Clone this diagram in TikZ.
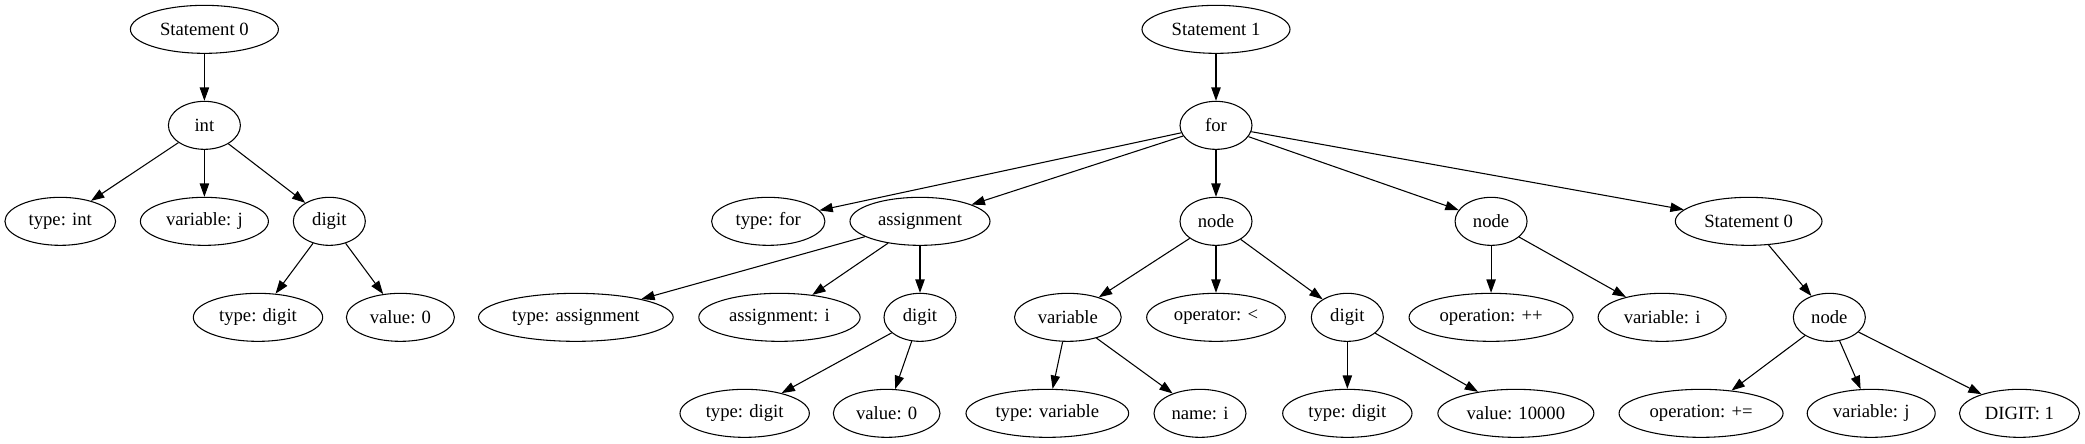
\documentclass[tikz,border=0pt]{standalone}
\usepackage{fontspec}
\setmainfont{Liberation Serif}
\usetikzlibrary{shapes.geometric,arrows.meta}
\tikzset{
  ast/.style={draw,ellipse,line width=0.8pt,minimum height=36pt,inner xsep=0pt,font=\fontsize{14}{16}\selectfont},
  link/.style={-{Triangle[length=10pt,width=7pt]},line width=0.8pt}
}
\begin{document}
\begin{tikzpicture}[x=1pt,y=-1pt]
      \useasboundingbox (0,0) rectangle (1563.75,332.25);
      \foreach \n/\x/\y/\w/\lbl in {s0/153.3/22/111/Statement 0, int/153.3/94/54/int,
        tint/45.2/166/83/type: int, varj/153.3/166/96/variable: j, dig0/247/166/54/digit,
        tdig0/193.5/238/97/type: digit, val0/300.3/238/81/value: 0,
        s1/912/22/111/Statement 1, for/912/94/54/for,
        tfor/576.2/166/85/type: for, asg/690/166/105/assignment, cond/912/166/54/node,
        incr/1118.3/166/54/node, body/1311.5/166/110/Statement 0,
        tasg/431.9/238/146/type: assignment, asgi/584.6/238/121/assignment: i, dig1/690/238/54/digit,
        var/800.9/238/80/variable, op/912/238/104/operator: <, dig2/1010.5/238/54/digit,
        opp/1118.3/238/123/operation: ++, vari/1246.6/238/96/variable: i, bnode/1372/238/54/node,
        tdig1/558.5/310/97/type: digit, val1/665/310/80/value: 0, tvar/785.5/310/122/type: variable,
        namei/900/310/69/name: i, tdig2/1010.5/310/97/type: digit, val2/1136.9/310/117/value: 10000,
        opq/1275.8/310/123/operation: +=, varj2/1403.4/310/96/variable: j, dig3/1514.6/310/90/DIGIT: 1}{
        \node[ast,minimum width=\w pt](\n) at(\x,\y) {\lbl};
      }
      \foreach \x/\y in {s0/int, int/tint, int/varj, int/dig0, dig0/tdig0, dig0/val0,
        s1/for, for/tfor, for/asg, for/cond, for/incr, for/body,
        asg/tasg, asg/asgi, asg/dig1, dig1/tdig1, dig1/val1,
        cond/var, cond/op, cond/dig2, var/tvar, var/namei, dig2/tdig2, dig2/val2,
        incr/opp, incr/vari, body/bnode, bnode/opq, bnode/varj2, bnode/dig3}{
        \draw[link](\x)--(\y);
      }
    \end{tikzpicture}
\end{document}
